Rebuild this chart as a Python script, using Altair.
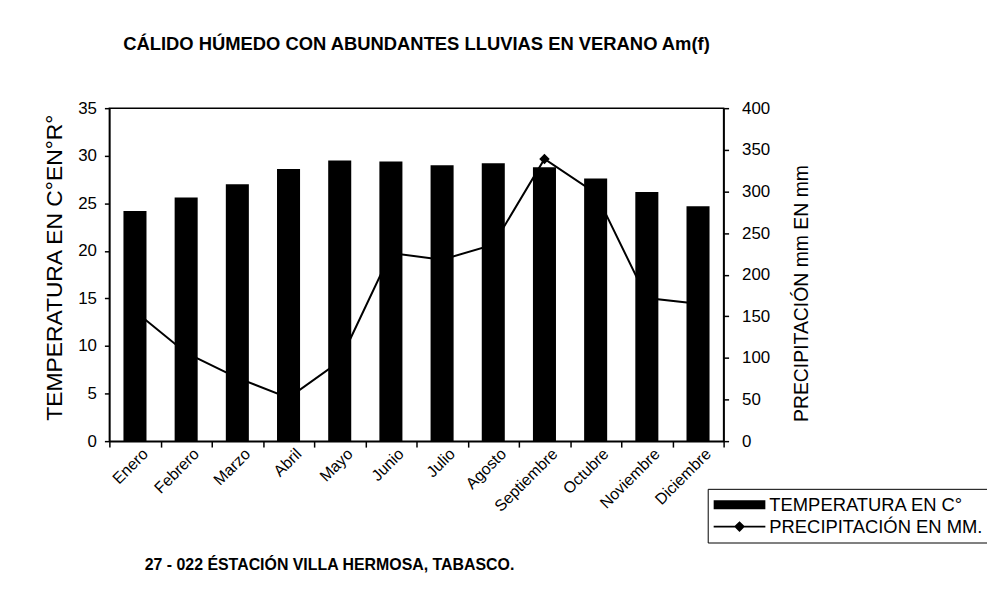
import altair as alt
import pandas as pd

months = ["Enero", "Febrero", "Marzo", "Abril", "Mayo", "Junio", "Julio",
          "Agosto", "Septiembre", "Octubre", "Noviembre", "Diciembre"]
temperatura = [24.2, 25.6, 27.0, 28.6, 29.5, 29.4, 29.0, 29.2, 28.8, 27.6, 26.2, 24.7]
precipitacion = [156, 106, 76, 52, 96, 226, 218, 236, 339, 298, 172, 165]
series = ["TEMPERATURA EN C°", "PRECIPITACIÓN EN MM."]

df = pd.DataFrame({"mes": months, "temp": temperatura, "precip": precipitacion})
leg = pd.DataFrame({"serie": series})

FONT = "Liberation Sans"

x = alt.X(
    "mes:N", sort=months,
    scale=alt.Scale(paddingInner=0, paddingOuter=0),
    axis=alt.Axis(
        title="27 - 022 ÉSTACIÓN VILLA HERMOSA, TABASCO.",
        titleFont=FONT, titleFontSize=16, titleFontWeight="bold",
        titleX=221, titleY=124, titleAlign="center", titleBaseline="middle",
        labelAngle=-45, labelAlign="right", labelBaseline="middle",
        labelFontSize=16, labelPadding=4, labelOffset=10,
        tickBand="extent", tickSize=6,
    ),
)

bars = alt.Chart(df).mark_bar(color="black", width=alt.RelativeBandSize(0.45)).encode(
    x=x,
    y=alt.Y("temp:Q", scale=alt.Scale(domain=[0, 35], nice=False),
            axis=alt.Axis(orient="left", values=list(range(0, 36, 5)),
                          title="TEMPERATURA EN C°EN°R°", titleFontSize=23,
                          titleFontWeight="normal", titleAngle=270,
                          titleX=-55, titleY=160, titleAlign="center",
                          titleBaseline="middle",
                          labelFontSize=17, labelPadding=8, tickSize=5,
                          grid=False)),
)

line = alt.Chart(df).mark_line(
    color="black", strokeWidth=2,
    point=alt.OverlayMarkDef(shape="diamond", filled=True, size=110, color="black"),
).encode(
    x=x,
    y=alt.Y("precip:Q", scale=alt.Scale(domain=[0, 400], nice=False),
            axis=alt.Axis(orient="right", values=list(range(0, 401, 50)),
                          title="PRECIPITACIÓN mm EN mm", titleFontSize=19.5,
                          titleFontWeight="normal", titleAngle=270,
                          titleX=78, titleY=186, titleAlign="center",
                          titleBaseline="middle",
                          labelFontSize=17, labelPadding=13, tickSize=5,
                          grid=False)),
)

rect_path = "M-1,-0.45 L4.2,-0.45 L4.2,0.45 L-1,0.45 Z"
line_path = ("M-1,-0.08 L4.2,-0.08 L4.2,0.08 L-1,0.08 Z "
             "M1.6,-0.55 L2.15,0 L1.6,0.55 L1.05,0 Z")

legend_layer = alt.Chart(leg).mark_point(filled=True, opacity=0, color="black").encode(
    shape=alt.Shape(
        "serie:N",
        scale=alt.Scale(domain=series, range=[rect_path, line_path]),
        legend=alt.Legend(
            title=None, orient="none", legendX=602, legendY=383,
            direction="vertical",
            symbolSize=400, symbolOpacity=1, symbolFillColor="black",
            symbolStrokeColor="black", symbolStrokeWidth=0,
            labelFont=FONT, labelFontSize=18.5, labelOffset=36, labelLimit=400,
            labelColor="black",
            rowPadding=2, padding=6,
            strokeColor="black", fillColor="white",
        ),
    ),
)

chart = alt.layer(bars, line, legend_layer).resolve_scale(
    y="independent"
).properties(
    width=618, height=335,
    autosize=alt.AutoSizeParams(type="none"),
    padding={"left": 102, "top": 99, "right": 265, "bottom": 150},
    title=alt.Title("CÁLIDO HÚMEDO CON ABUNDANTES LLUVIAS EN VERANO Am(f)",
                    font=FONT, fontSize=18.5, fontWeight="bold", offset=46,
                    anchor="middle", color="black"),
).configure(
    font=FONT,
).configure_view(
    stroke="black", strokeWidth=1.5,
).configure_axis(
    labelFont=FONT, titleFont=FONT, labelColor="black", titleColor="black",
    domainColor="black", tickColor="black", domainWidth=1.5, tickWidth=1.5,
)

chart.save("out.html", embed_options={"renderer": "svg", "actions": False})
